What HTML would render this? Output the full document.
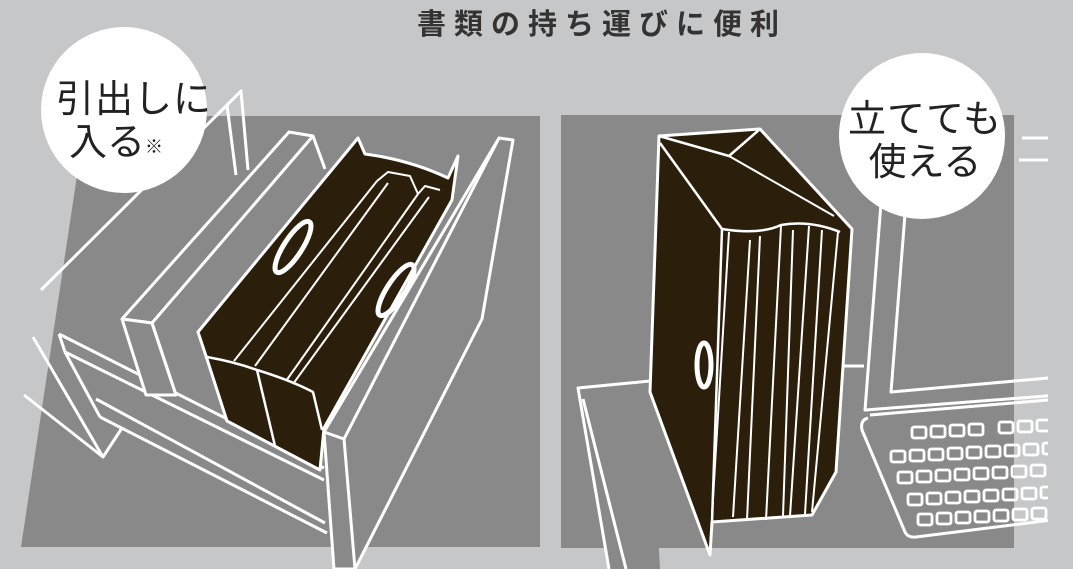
<!DOCTYPE html>
<html><head><meta charset="utf-8"><style>
html,body{margin:0;padding:0;background:#c6c7c9;}
svg{display:block}
text{font-family:"Liberation Sans","Noto Sans CJK JP",sans-serif;}
</style></head><body>
<svg width="1073" height="569" viewBox="0 0 1073 569" xmlns="http://www.w3.org/2000/svg">
<rect width="1073" height="569" fill="#c6c7c9"/>
<text x="602" y="34" text-anchor="middle" font-size="29" font-weight="bold" fill="#333" letter-spacing="8">書類の持ち運びに便利</text>
<polygon points="86,116 540,116 540,547 21,547" fill="#898989"/>
<defs><clipPath id="cl"><rect x="0" y="0" width="1048" height="569"/></clipPath></defs>
<g fill="none" stroke="#fff" stroke-width="3" stroke-linejoin="round">
<polyline points="41,290 227,105 241,91 248,170"/>
<polyline points="227,105 236,175"/>
<polyline points="59,334 324,468"/>
<polyline points="65,352 324,480"/>
<polyline points="96,399 325,523"/>
<polyline points="100,417 327,533"/>
<polyline points="24,395 103,457 122,428"/>
<polyline points="33,337 103,457"/>
<polyline points="59,334 65,352 100,417"/>
<polygon points="122,319 289,132 313,136 152,323" fill="#898989"/>
<polygon points="122,319 152,323 176,395 146,395" fill="#898989"/>
<polyline points="313,136 325,169"/>
<polyline points="152,323 176,395"/>
<polygon points="499,138 513,140 482,319 355,569 334,569 324,432" fill="#898989"/>
<polyline points="324,432 344,439 355,569"/>
<polyline points="344,439 499,138"/>
<path d="M198,332 L358,138 L365,154 Q410,160 448,178 L458,156 L452,200 L324,428 L320,470 L227,421 L207,359 Z" fill="#2b1e0b"/>
<path d="M207,357 Q235,362 257,370 Q290,380 313,392 L322,430" stroke-width="2.5"/>
<polyline points="257,370 275,446" stroke-width="2.5"/>
<g stroke-width="2">
<polyline points="234,361 377,181"/><polyline points="255,366 388,183"/>
<polyline points="286,381 418,194"/><polyline points="293,384 429,197"/>
<polyline points="377,181 388,172 410,176 418,194"/>
<polyline points="418,194 425,186 440,190"/>
</g>
<ellipse cx="293" cy="247" rx="9" ry="30" transform="rotate(33 293 247)" stroke-width="5"/>
<ellipse cx="396" cy="290" rx="9" ry="30" transform="rotate(33 396 290)" stroke-width="5"/>
</g>
<circle cx="124" cy="110" r="83" fill="#fff"/>
<text x="134" y="112" text-anchor="middle" font-size="38" fill="#222" letter-spacing="1">引出しに</text>
<text x="116" y="155" text-anchor="middle" font-size="38" fill="#222">入る<tspan font-size="18" dy="-2">※</tspan></text>

<rect x="561" y="115" width="453" height="433" fill="#898989"/>
<g fill="none" stroke="#fff" stroke-width="3" stroke-linejoin="round" clip-path="url(#cl)">
<polyline points="881,203 865,410 1060,395"/>
<polyline points="905,214 891,392 1060,377"/>
<polyline points="836,366 864,366"/>
<polyline points="1022,138 1060,138"/><polyline points="1019,160 1060,160"/>
<path d="M870,415 L1060,399 M868,418 Q860,420 862,430 L905,532 Q908,538 916,537 L1060,519"/>
<polygon points="578,388 650,381 660,569 609,569" fill="#898989" stroke="none"/>
<polyline points="650,381 578,388 609,569"/>
<polyline points="583,399 626,569"/>
<path d="M659,136 L760,129 L852,229 L850,260 L836,472 L812,515 L712,522 L710,555 L650,392 Z" fill="#2b1e0b"/>
<polyline points="659,136 729,156 760,129" stroke-width="2.5"/>
<polyline points="729,156 834,216" stroke-width="2"/>
<polyline points="660,143 722,229 712,522" stroke-width="2.5"/>
<path d="M722,229 Q760,235 781,225 Q810,220 840,232" stroke-width="2.5"/>
<g stroke-width="2">
<polyline points="729,232 712,515"/><polyline points="750,240 733,517"/>
<polyline points="760,236 747,520"/><polyline points="781,226 766,520"/>
<polyline points="793,230 783,516"/><polyline points="809,226 790,516"/>
<polyline points="822,230 805,514"/><polyline points="838,232 812,512"/>
</g>
<ellipse cx="704" cy="365" rx="7" ry="22" stroke-width="5"/>
</g>
<g fill="none" stroke="#fff" stroke-width="2.8" clip-path="url(#cl)">
<g>
<rect x="912" y="427" width="14" height="11" rx="2"/><rect x="931" y="426" width="14" height="11" rx="2"/><rect x="950" y="425" width="14" height="11" rx="2"/><rect x="969" y="424" width="14" height="11" rx="2"/><rect x="999" y="422" width="14" height="11" rx="2"/><rect x="1018" y="421" width="14" height="11" rx="2"/><rect x="1037" y="420" width="14" height="11" rx="2"/>
</g>
<g>
<rect x="891" y="451" width="14" height="11" rx="2"/><rect x="910" y="450" width="14" height="11" rx="2"/><rect x="929" y="449" width="14" height="11" rx="2"/><rect x="948" y="448" width="14" height="11" rx="2"/><rect x="967" y="447" width="14" height="11" rx="2"/><rect x="986" y="446" width="14" height="11" rx="2"/><rect x="1005" y="445" width="14" height="11" rx="2"/><rect x="1024" y="444" width="14" height="11" rx="2"/><rect x="1043" y="443" width="14" height="11" rx="2"/>
</g>
<g>
<rect x="898" y="472" width="14" height="11" rx="2"/><rect x="917" y="471" width="14" height="11" rx="2"/><rect x="936" y="470" width="14" height="11" rx="2"/><rect x="955" y="469" width="14" height="11" rx="2"/><rect x="974" y="468" width="14" height="11" rx="2"/><rect x="993" y="467" width="14" height="11" rx="2"/><rect x="1012" y="466" width="14" height="11" rx="2"/><rect x="1031" y="465" width="14" height="11" rx="2"/>
</g>
<g>
<rect x="908" y="494" width="14" height="11" rx="2"/><rect x="927" y="493" width="14" height="11" rx="2"/><rect x="946" y="492" width="14" height="11" rx="2"/><rect x="965" y="491" width="14" height="11" rx="2"/><rect x="984" y="490" width="14" height="11" rx="2"/><rect x="1003" y="489" width="14" height="11" rx="2"/><rect x="1022" y="488" width="14" height="11" rx="2"/><rect x="1041" y="487" width="14" height="11" rx="2"/>
</g>
<g>
<rect x="918" y="514" width="14" height="11" rx="2"/><rect x="937" y="513" width="14" height="11" rx="2"/><rect x="956" y="512" width="14" height="11" rx="2"/><rect x="975" y="511" width="14" height="11" rx="2"/><rect x="994" y="510" width="14" height="11" rx="2"/><rect x="1013" y="509" width="14" height="11" rx="2"/><rect x="1032" y="508" width="14" height="11" rx="2"/>
</g>
</g>
<circle cx="922" cy="136" r="83" fill="#fff"/>
<text x="925" y="132" text-anchor="middle" font-size="38" fill="#222" letter-spacing="1">立てても</text>
<text x="925" y="175" text-anchor="middle" font-size="38" fill="#222">使える</text>
</svg>
</body></html>
